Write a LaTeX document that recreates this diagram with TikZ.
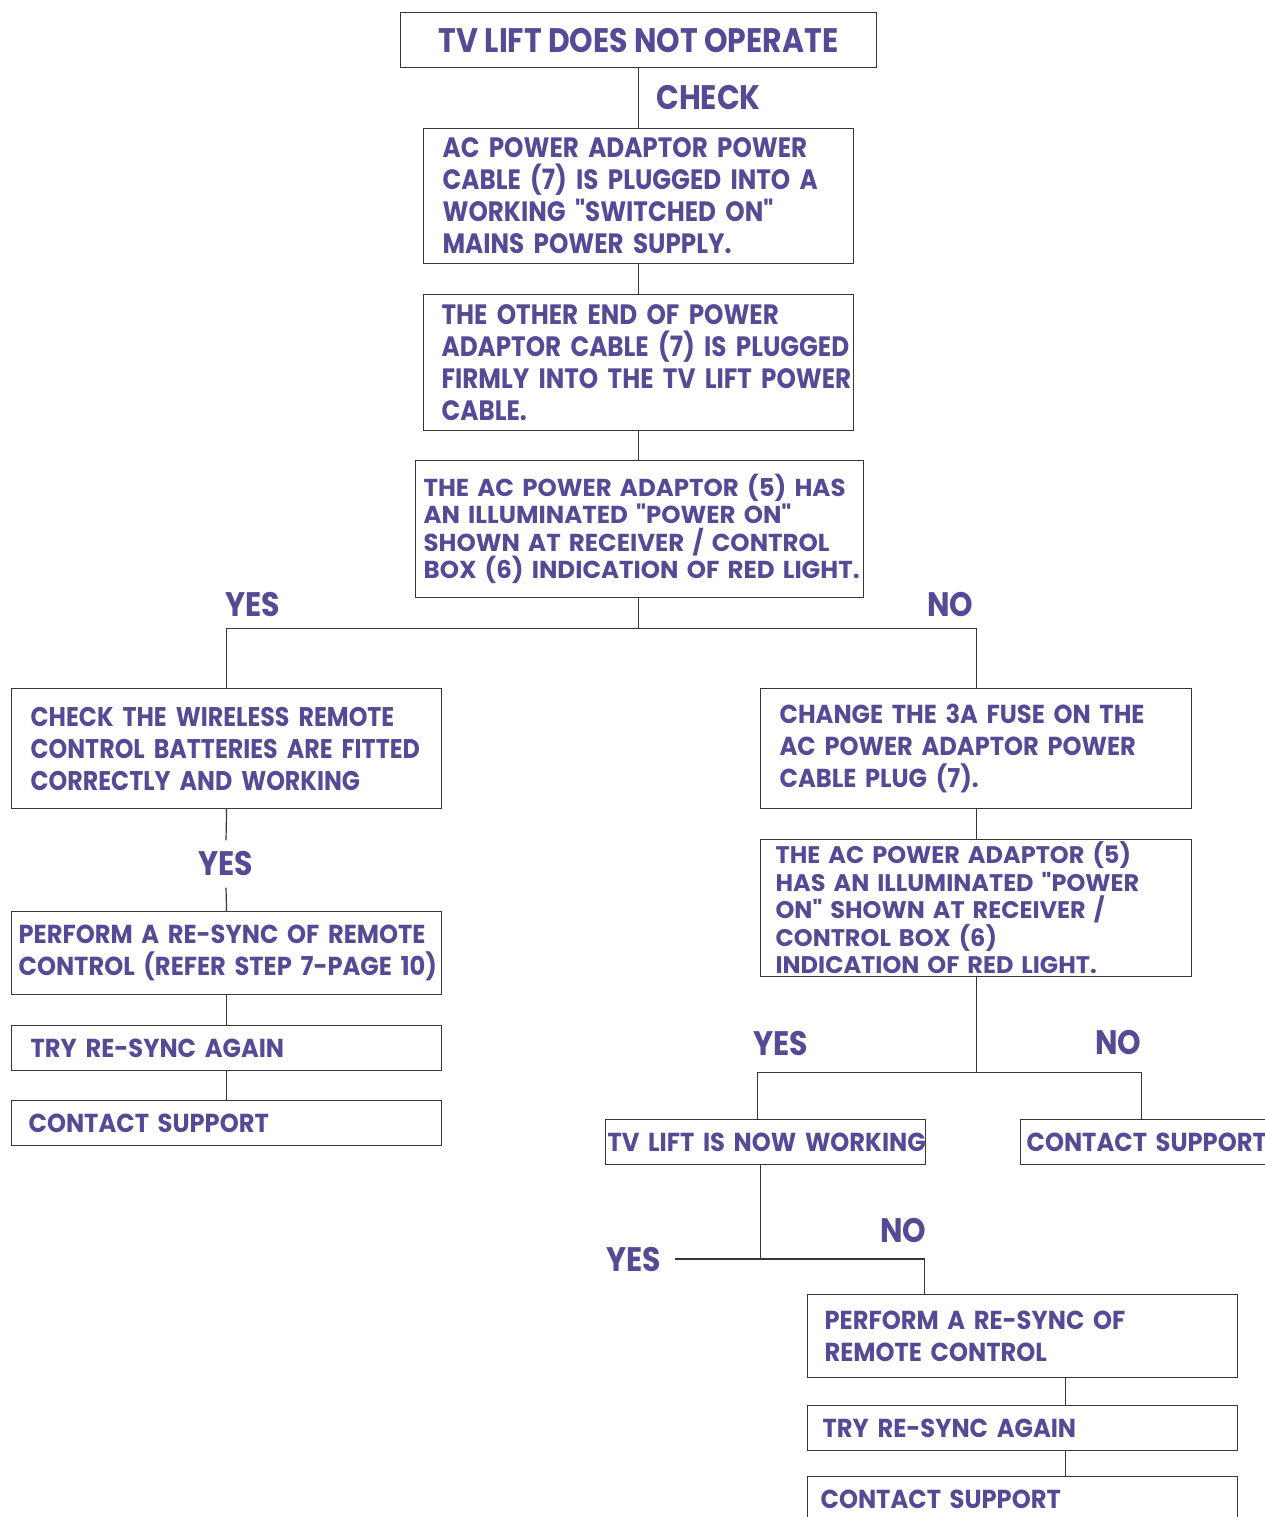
\documentclass[tikz,border=0pt]{standalone}
\usepackage{fontspec}
\setmainfont{Poppins}[Ligatures=TeXOff]
\newfontfamily\wideface{Poppins}[Ligatures=TeXOff]
\newfontfamily\midface{Poppins}[Ligatures=TeXOff, FakeStretch=0.93]
\newfontfamily\slimface{Poppins}[Ligatures=TeXOff, FakeStretch=0.88]
\definecolor{lilac}{RGB}{87, 73, 149}
\definecolor{rule1}{RGB}{55, 55, 55}
\usetikzlibrary{positioning, calc}
\newcommand{\boxlines}[1]{\begin{minipage}[t]{600pt}\raggedright #1\end{minipage}}

\begin{document}
\begin{tikzpicture}[
  x=1pt, y=-1pt,
  fbox/.style={draw=rule1, line width=1.2pt, text=lilac, anchor=north west, align=left, inner ysep=0pt},
  tag/.style={text=lilac, inner sep=0pt, font=\slimface\bfseries\fontsize{34}{36}\selectfont}
]
  \useasboundingbox (0,0) rectangle (1265,1517);
  \node[fbox, align=center, minimum width=476pt, minimum height=55pt, font=\slimface\bfseries\fontsize{34}{36}\selectfont] (start) at (400,12) {TV LIFT DOES NOT OPERATE};
  \node[fbox, minimum width=430pt, minimum height=135pt, inner xsep=19pt, text width=392pt, font=\slimface\bfseries\fontsize{28}{32}\selectfont] (plug) at (423,128) {\boxlines{AC POWER ADAPTOR POWER\\ CABLE (7) IS PLUGGED INTO A\\ WORKING "SWITCHED ON"\\ MAINS POWER SUPPLY.}};
  \node[fbox, minimum width=430pt, minimum height=136pt, inner xsep=18pt, text width=394pt, font=\slimface\bfseries\fontsize{28}{32}\selectfont] (cable) at (423,294) {\boxlines{THE OTHER END OF POWER\\ ADAPTOR CABLE (7) IS PLUGGED\\ FIRMLY INTO THE TV LIFT POWER\\ CABLE.}};
  \node[fbox, minimum width=448pt, minimum height=137pt, inner xsep=8pt, text width=432pt, font=\wideface\bfseries\fontsize{24.5}{27.5}\selectfont] (lamp) at (415,460) {\boxlines{THE AC POWER ADAPTOR (5) HAS\\ AN ILLUMINATED "POWER ON"\\ SHOWN AT RECEIVER / CONTROL\\ BOX (6) INDICATION OF RED LIGHT.}};
  \node[fbox, minimum width=430pt, minimum height=120pt, inner xsep=19pt, text width=392pt, font=\slimface\bfseries\fontsize{27}{32}\selectfont] (battery) at (11,688) {\boxlines{CHECK THE WIRELESS REMOTE\\ CONTROL BATTERIES ARE FITTED\\ CORRECTLY AND WORKING}};
  \node[fbox, minimum width=430pt, minimum height=83pt, inner xsep=7pt, text width=416pt, font=\midface\bfseries\fontsize{26}{32}\selectfont] (resync) at (11,911) {\boxlines{PERFORM A RE-SYNC OF REMOTE\\ CONTROL (REFER STEP 7-PAGE 10)}};
  \node[fbox, minimum width=430pt, minimum height=45pt, inner xsep=19pt, text width=392pt, font=\midface\bfseries\fontsize{26}{32}\selectfont] (retry) at (11,1025) {\boxlines{TRY RE-SYNC AGAIN}};
  \node[fbox, minimum width=430pt, minimum height=45pt, inner xsep=17pt, text width=396pt, font=\midface\bfseries\fontsize{26}{32}\selectfont] (support) at (11,1100) {\boxlines{CONTACT SUPPORT}};
  \node[fbox, minimum width=431pt, minimum height=120pt, inner xsep=19pt, text width=393pt, font=\midface\bfseries\fontsize{26}{32}\selectfont] (fuse) at (760,688) {\boxlines{CHANGE THE 3A FUSE ON THE\\ AC POWER ADAPTOR POWER\\ CABLE PLUG (7).}};
  \node[fbox, minimum width=431pt, minimum height=137pt, inner xsep=15pt, text width=401pt, font=\wideface\bfseries\fontsize{24}{27.5}\selectfont] (lamptwo) at (760,839) {\boxlines{THE AC POWER ADAPTOR (5)\\ HAS AN ILLUMINATED "POWER\\ ON" SHOWN AT RECEIVER /\\ CONTROL BOX (6)\\ INDICATION OF RED LIGHT.}};
  \node[fbox, minimum width=320pt, minimum height=45pt, inner xsep=2pt, text width=316pt, font=\midface\bfseries\fontsize{26}{32}\selectfont] (working) at (605,1119) {\boxlines{TV LIFT IS NOW WORKING}};
  \node[fbox, minimum width=300pt, minimum height=45pt, inner xsep=6pt, text width=288pt, font=\midface\bfseries\fontsize{26}{32}\selectfont] (supporttwo) at (1020,1119) {\boxlines{CONTACT SUPPORT}};
  \node[fbox, minimum width=430pt, minimum height=83pt, inner xsep=17pt, text width=396pt, font=\midface\bfseries\fontsize{26}{32}\selectfont] (resynctwo) at (807,1294) {\boxlines{PERFORM A RE-SYNC OF\\ REMOTE CONTROL}};
  \node[fbox, minimum width=430pt, minimum height=45pt, inner xsep=15pt, text width=400pt, font=\midface\bfseries\fontsize{26}{32}\selectfont] (retrytwo) at (807,1405) {\boxlines{TRY RE-SYNC AGAIN}};
  \node[fbox, minimum width=430pt, minimum height=45pt, inner xsep=13pt, text width=404pt, font=\midface\bfseries\fontsize{26}{32}\selectfont] (supportthree) at (807,1476) {\boxlines{CONTACT SUPPORT}};
  \node[tag, anchor=west] (check) at (656,98) {CHECK};
  \node[tag] (yes) at (253,605) {YES};
  \node[tag] (no) at (950,605) {NO};
  \node[tag, minimum height=47pt] (yestwo) at (226,864) {YES};
  \node[tag] (yesthree) at (781,1044) {YES};
  \node[tag] (nothree) at (1118,1043) {NO};
  \node[tag, anchor=east] (yesfour) at (661,1259) {YES};
  \node[tag] (nofour) at (903,1231) {NO};
  \coordinate (yesend) at (675,1259);
  \begin{scope}[draw=rule1, line width=1.2pt]
    \draw (start) -- (plug);
    \draw (plug) -- (cable);
    \draw (cable.south) -- ([xshift=-1pt]lamp.north);
    \draw ([xshift=-1pt]lamp.south) -- ++(0,30) coordinate (fork);
    \draw (battery.north) |- (fork) -| (fuse.north);
    \draw (battery.south) -- (yestwo.north);
    \draw (yestwo.south) -- (resync.north);
    \draw (resync) -- (retry);
    \draw (retry) -- (support);
    \draw (fuse) -- (lamptwo);
    \draw (lamptwo.south) -- ++(0,95) coordinate (forktwo);
    \draw ([xshift=-8pt]working.north) |- (forktwo) -| ([xshift=-29pt]supporttwo.north);
    \draw (yesend) -| ([xshift=-5pt]working.south);
    \draw (yesend) -| ([xshift=-98pt]resynctwo.north);
    \draw ([xshift=43pt]resynctwo.south) -- ([xshift=43pt]retrytwo.north);
    \draw ([xshift=43pt]retrytwo.south) -- ([xshift=43pt]supportthree.north);
  \end{scope}
\end{tikzpicture}
\end{document}
